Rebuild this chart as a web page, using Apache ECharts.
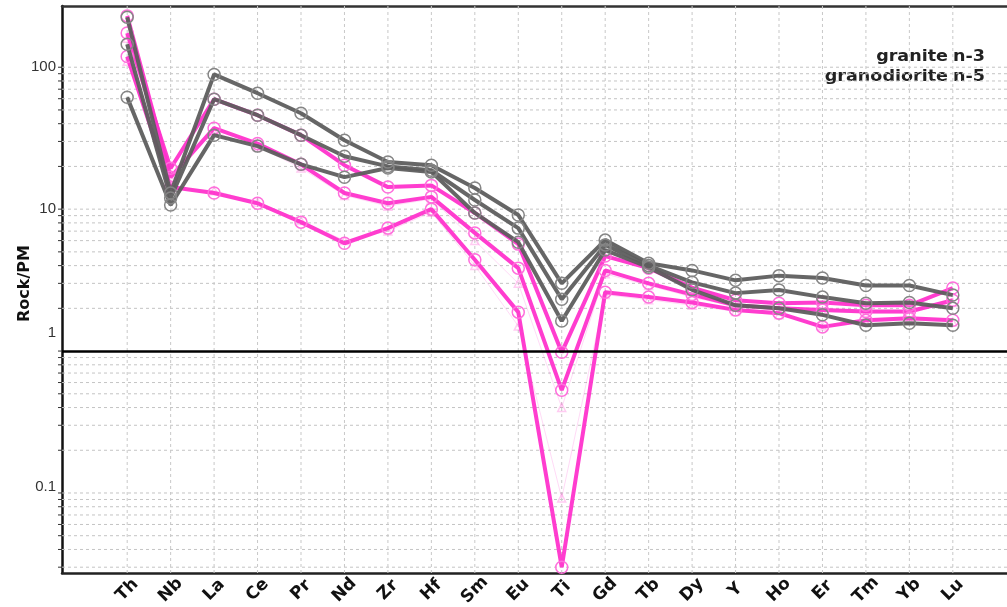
<!DOCTYPE html>
<html><head><meta charset="utf-8">
<script src="https://cdn.jsdelivr.net/npm/echarts@6/dist/echarts.min.js"></script>
<style>html,body{margin:0;padding:0;background:#fff}#c{width:1007px;height:607px}</style>
</head><body><div id="c"></div>
<script>
// ---- data ----
const elements = ['Th','Nb','La','Ce','Pr','Nd','Zr','Hf','Sm','Eu','Ti','Gd','Tb','Dy','Y','Ho','Er','Tm','Yb','Lu'];
// granite (n-3)
const granite1 = [225, 13.0, 89, 65.6, 47.4, 30.6, 21.5, 20.4, 14.1, 9.1, 3.0, 6.05, 4.15, 3.7, 3.15, 3.4, 3.27, 2.9, 2.9, 2.48];
const granite2 = [145, 12.0, 59.5, 45.9, 33.2, 23.6, 20.0, 18.8, 11.6, 7.35, 2.32, 5.6, 4.0, 3.05, 2.56, 2.69, 2.4, 2.17, 2.2, 2.0];
const granite3 = [61.5, 10.7, 33.2, 27.8, 20.7, 16.8, 19.5, 18.3, 9.4, 5.85, 1.63, 5.15, 3.9, 2.7, 2.1, 2.0, 1.8, 1.52, 1.57, 1.52];
// granodiorite (n-5)
const grd1 = [174, 19.4, 59.5, 45.9, 33.2, 20.4, 14.3, 14.7, 9.4, 5.67, 0.98, 4.67, 3.84, 2.8, 2.28, 2.17, 2.2, 2.1, 2.1, 2.78];
const grd2 = [230, 16.8, 37.2, 29.0, 20.7, 13.0, 11.0, 12.2, 6.8, 3.84, 0.53, 3.7, 3.0, 2.5, 2.1, 2.0, 1.95, 1.9, 1.9, 2.28];
const grd3 = [119, 14.3, 13.0, 11.0, 8.1, 5.75, 7.35, 10.0, 4.4, 1.88, 0.030, 2.6, 2.4, 2.2, 1.95, 1.85, 1.48, 1.65, 1.7, 1.65];
const grd4 = [160, 17.5, 35.0, 27.5, 19.5, 12.5, 10.5, 11.8, 6.0, 3.0, 0.40, 3.5, 2.9, 2.4, 2.05, 1.95, 1.9, 1.85, 1.85, 2.2];
const grd5 = [110, 14.0, 13.5, 11.2, 8.3, 6.0, 7.0, 9.5, 4.0, 1.5, 0.092, 2.5, 2.3, 2.1, 1.9, 1.8, 1.5, 1.6, 1.65, 1.6];
// axis ticks / grid values
const yLabelValues = [0.1, 1, 10, 100];
const gridValues = [0.03,0.04,0.05,0.06,0.07,0.08,0.09,0.1,0.2,0.3,0.4,0.5,0.6,0.7,0.8,0.9,1,2,3,4,5,6,7,8,9,10,20,30,40,50,60,70,80,90,100];
const refValue = 1;
const legendRows = [['granite', 'n-3'], ['granodiorite', 'n-5']];

// ---- chart ----
const PINK = '#ff33cc', GRAY = '#5e5e5e';
const cats = [' '].concat(elements).concat(['  ']);
const toData = vals => vals.map((v, i) => [elements[i], v]);

function lineSeries(name, vals, color, ring, z, faint) {
  return {
    name, type: 'line', data: toData(vals), z,
    symbol: faint ? 'triangle' : 'circle', symbolSize: faint ? 8 : 12,
    showAllSymbol: true,
    lineStyle: { color, width: faint ? 1 : 4, opacity: faint ? 0.18 : 0.95 },
    itemStyle: { color: 'rgba(0,0,0,0)', borderColor: ring, borderWidth: 1.5, opacity: faint ? 0.25 : 1 },
    emphasis: { disabled: true }, silent: true
  };
}

const legendFont = 'bold 15px "DejaVu Sans"';
const graphics = [];
legendRows.forEach((r, i) => {
  const y = 57 + i * 20;
  graphics.push({ type: 'text', x: 948, y, scaleX: 1.17, silent: true,
    style: { text: r[0], font: legendFont, fill: '#222', align: 'right', verticalAlign: 'middle' } });
  graphics.push({ type: 'text', x: 953, y, scaleX: 1.17, silent: true,
    style: { text: r[1], font: legendFont, fill: '#222', align: 'left', verticalAlign: 'middle' } });
});

const chart = echarts.init(document.getElementById('c'), null, { renderer: 'canvas' });
chart.setOption({
  animation: false,
  grid: { left: 62, top: 6, bottom: 34, right: -11, containLabel: false, outerBoundsMode: 'none' },
  xAxis: [{
    type: 'category', data: cats, boundaryGap: true, position: 'bottom',
    axisLine: { lineStyle: { color: '#222', width: 2.5 } },
    axisTick: { show: false }, splitLine: { show: false },
    axisLabel: { interval: 0, rotate: 45, align: 'center', verticalAlign: 'middle', margin: 17,
      fontFamily: 'DejaVu Sans', fontWeight: 'bold', fontSize: 17, color: '#111' }
  }, {
    type: 'category', data: cats, boundaryGap: true, position: 'top',
    axisLine: { lineStyle: { color: '#333', width: 2.5 } },
    axisTick: { show: false }, axisLabel: { show: false }, splitLine: { show: false }
  }],
  yAxis: {
    type: 'log', logBase: 10, min: 0.0273, max: 270,
    axisLine: { show: true, lineStyle: { color: '#111', width: 2.5 } },
    axisTick: { show: false }, splitLine: { show: false },
    name: 'Rock/PM', nameLocation: 'middle', nameGap: 29, nameMoveOverlap: false,
    nameTextStyle: { fontFamily: 'DejaVu Sans', fontWeight: 'bold', fontSize: 16, color: '#111', padding: [0, 0, 0, 12] },
    axisLabel: {
      margin: 6, fontFamily: 'Liberation Sans', fontSize: 15, color: '#333',
      showMinLabel: false, showMaxLabel: false,
      formatter: v => {
        const r = +(+v).toPrecision(3);
        if (yLabelValues.indexOf(r) < 0) return '';
        if (r === 1) return '{a|1}';
        if (r === 0.1) return '{b|0.1}';
        return String(r);
      },
      rich: {
        a: { fontFamily: 'Liberation Sans', fontSize: 15, color: '#333', padding: [0, 0, 36, 0] },
        b: { fontFamily: 'Liberation Sans', fontSize: 15, color: '#333', padding: [0, 0, 12, 0] }
      }
    }
  },
  graphic: graphics,
  series: [
    { // horizontal grid lines + small left ticks
      type: 'custom', z: 1, silent: true, clip: false,
      data: gridValues.map(v => [elements[0], v]),
      renderItem: (params, api) => {
        const cs = params.coordSys;
        const v = api.value(1);
        const y = api.coord([api.value(0), v])[1];
        const ch = [{ type: 'line', shape: { x1: cs.x - 4, y1: y, x2: cs.x, y2: y }, style: { stroke: '#333', lineWidth: 1 } }];
        if (Math.abs(v - refValue) > 1e-9) ch.push({ type: 'line', shape: { x1: cs.x, y1: y, x2: cs.x + cs.width, y2: y },
          style: { stroke: '#c4c4c4', lineWidth: 1, lineDash: [3, 3] } });
        return { type: 'group', children: ch };
      }
    },
    { // vertical grid lines at each element
      type: 'custom', z: 1, silent: true,
      data: elements.map(e => [e, 1]),
      renderItem: (params, api) => {
        const cs = params.coordSys;
        const x = api.coord([api.value(0), 1])[0];
        return { type: 'line', shape: { x1: x, y1: cs.y, x2: x, y2: cs.y + cs.height },
          style: { stroke: '#c8c8c8', lineWidth: 1, lineDash: [3, 3] } };
      }
    },
    lineSeries('granodiorite 4', grd4, PINK, PINK, 2, true),
    lineSeries('granodiorite 5', grd5, PINK, PINK, 2, true),
    lineSeries('granodiorite 1', grd1, PINK, '#ff6fdc', 3),
    lineSeries('granodiorite 2', grd2, PINK, '#ff6fdc', 3),
    lineSeries('granodiorite 3', grd3, PINK, '#ff6fdc', 3),
    lineSeries('granite 1', granite1, GRAY, '#858585', 4),
    lineSeries('granite 2', granite2, GRAY, '#858585', 4),
    lineSeries('granite 3', granite3, GRAY, '#858585', 4),
    { // reference line at 1
      type: 'line', data: [], z: 6, silent: true,
      markLine: { silent: true, symbol: 'none', label: { show: false },
        lineStyle: { color: '#000', width: 2.5, type: 'solid' }, data: [{ yAxis: refValue }] }
    }
  ]
});
</script></body></html>
